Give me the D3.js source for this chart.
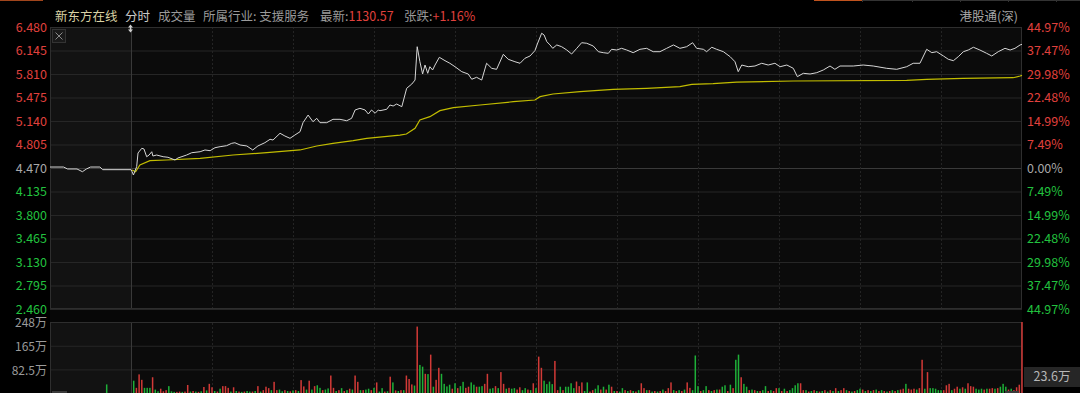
<!DOCTYPE html>
<html>
<head>
<meta charset="utf-8">
<script src="https://cdn.jsdelivr.net/npm/d3@7"></script>
<style>
body{margin:0;background:#000;overflow:hidden}
svg{display:block;font-family:"Noto Sans CJK SC","Noto Sans",sans-serif}
</style>
</head>
<body>
<script>
// price axis ticks (left) and matching % labels (right)
var priceTicks = [6.480, 6.145, 5.810, 5.475, 5.140, 4.805, 4.470, 4.135, 3.800, 3.465, 3.130, 2.795, 2.460];
var pctLabels = ["44.97%","37.47%","29.98%","22.48%","14.99%","7.49%","0.00%","7.49%","14.99%","22.48%","29.98%","37.47%","44.97%"];
var prevClose = 4.470;
var volTicks = [248, 165, 82.5];
var volLabels = ["248万","165万","82.5万"];
// minutes from 9:00 (pre-market 9:00-9:30, trading 9:30-16:00 without lunch)
var timeTicks = [30, 60, 90, 120, 150, 180, 210, 240, 270, 300, 330];

// price line (minute, price)
var priceT = [0,5,6.5,10,12,13.5,15,18.5,19.5,30,
  30.4,30.9,32.1,32.6,34.0,34.8,35.8,36.7,37.7,38.1,39.5,41.9,43.7,46.3,47.4,50.6,52.5,55.6,57.4,59.3,
  61.1,63.0,65.4,67.3,68.5,70.4,72.9,75.1,77.0,79.6,81.5,82.6,85.2,87.0,88.9,90.7,92.6,93.7,95.6,97.4,
  98.8,100,102.5,104.8,107.4,109.9,111.7,113,114.8,116.7,117.9,119.1,120.4,121.6,122.2,124.7,125.9,127.1,128.4,130.3,
  132.1,134,135.2,136.0,137.0,138.0,138.9,139.9,140.7,141.7,142.6,144.2,146.3,148.1,150,152.5,154.9,156.2,158,159.9,
  161.7,163.6,165.4,167.9,169.7,172.2,174.1,175.9,177.8,179.6,180.5,182.1,183,184,185.2,186.2,187.7,189.5,191.4,193.2,
  195.1,196.9,198.8,201.2,203.1,204.9,206.8,208,209.9,211.7,213.6,216,218.5,221,223.4,225.9,228.4,230.9,233.3,235.8,
  238,239.5,242,243.2,245.1,246.9,249.4,251.9,253.7,254.9,256.2,258.6,261.1,263.6,266,268.5,270.4,272.9,275.3,276.8,
  279,281.5,284,286.4,288.9,290.7,292.6,297.5,301.2,304.9,309.9,313.6,317.3,319.7,322.2,324.7,326.6,328.4,330.9,332.7,
  334.6,336.4,338.3,340.1,342,344.4,346.9,348.8,351.2,353.7,355.6,357.4,359.3,360];
var priceV = [4.484,4.484,4.456,4.456,4.417,4.456,4.484,4.484,4.446,4.446,
  4.417,4.370,4.489,4.684,4.751,4.741,4.631,4.655,4.702,4.641,4.655,4.631,4.623,4.584,4.613,4.655,4.688,4.702,4.727,4.717,
  4.759,4.774,4.788,4.822,4.830,4.798,4.784,4.727,4.784,4.831,4.879,4.869,4.965,4.926,4.893,4.940,4.987,5.116,5.225,5.130,
  5.178,5.116,5.116,5.164,5.164,5.144,5.178,5.297,5.321,5.297,5.240,5.297,5.250,5.297,5.287,5.307,5.368,5.354,5.382,5.344,
  5.606,5.667,5.724,6.199,5.985,5.810,5.938,5.820,5.914,5.867,5.938,6.048,6.000,5.963,5.914,5.843,5.810,5.735,5.763,5.724,
  5.963,5.891,5.877,6.091,6.020,5.985,5.963,6.034,6.067,6.143,6.238,6.391,6.366,6.271,6.224,6.176,6.224,6.199,6.152,6.095,
  6.176,6.256,6.248,6.209,6.128,6.114,6.105,6.162,6.152,6.176,6.152,6.114,6.162,6.176,6.128,6.128,6.176,6.224,6.176,6.199,
  6.256,6.176,6.162,6.128,6.191,6.162,6.128,6.057,5.985,5.843,5.938,5.914,5.924,5.963,5.938,5.963,5.914,5.938,5.891,5.772,
  5.820,5.810,5.829,5.867,5.924,5.877,5.924,5.924,5.938,5.924,5.891,5.877,5.914,5.963,5.963,6.162,6.114,6.128,6.067,6.020,
  6.000,6.057,6.128,6.152,6.191,6.152,6.105,6.067,6.128,6.176,6.152,6.176,6.224,6.233];

// average price line (minute, price)
var avgT = [30.4,31.7,33.3,37,43.2,55.6,67.8,80.3,92.6,98.8,104.8,112.3,117.3,129.6,132,135.2,137,140.7,144.4,149.4,
  159.3,171.6,179.6,181.5,186.3,196.3,208.6,221,233.3,237.7,245.6,254.3,275.2,317.3,324.7,338.1,356.7,359.3,360];
var avgV = [4.441,4.417,4.513,4.574,4.584,4.608,4.655,4.688,4.727,4.784,4.822,4.860,4.893,4.940,4.955,5.036,5.154,5.202,5.287,5.330,
  5.368,5.415,5.439,5.487,5.525,5.558,5.592,5.606,5.629,5.662,5.672,5.695,5.710,5.719,5.733,5.748,5.757,5.781,5.790];

// volume (万), one bar per minute from 9:31 to 16:00; r = up, g = down
var preVolT = [21];
var preVol = [30];
var preDir = ["g"];
var vol = [43,18,65,46,18,18,18,55,12,6, 15,6,10,24,6,4,4,5,4,5, 28,5,7,5,4,6,21,9,32,20,
  7,5,15,24,24,18,5,20,7,5, 4,5,7,5,5,7,24,5,10,22, 17,10,39,10,12,6,10,7,6,9,
  10,7,45,23,12,43,12,24,27,18, 10,12,16,61,18,7,10,17,7,10, 15,12,61,39,10,10,12,15,10,18,
  37,5,17,5,6,57,37,9,7,10, 10,61,49,30,26,232,98,92,67,66, 134,22,46,88,67,32,23,29,15,34,
  17,24,39,18,22,37,29,22,22,24, 32,67,15,17,24,17,73,32,15,18, 15,17,12,20,10,17,12,10,34,17,127,
  88,43,31,40,31,112,10,22,10, 22,22,34,17,40,24,37,7,37,5, 10,15,27,12,22,12,29,22,7,7,
  5,17,10,7,10,7,5,10,34,17, 10,10,5,7,5,7,12,7,17,37, 10,7,10,7,12,37,18,10,131,24,
  7,10,24,10,7,10,12,12,22,27, 7,29,17,116,134,55,32,22,10,12, 10,7,7,10,24,7,10,7,17,17,
  7,15,7,10,17,27,34,34,10,10, 5,7,10,7,5,7,10,5,10,7, 17,7,10,17,10,7,5,7,10,15,
  12,7,10,7,10,12,7,10,7,5, 7,10,7,10,12,15,32,15,12,15, 12,17,116,15,73,17,17,15,10,10,
  10,27,32,10,15,22,15,20,15,34, 24,22,15,12,15,12,15,15,17,15, 17,22,32,22,12,15,10,20,29,248];
var volDir = ("grrrgggrgg" + "rrrgggrrgr" + "rgrgrgrgrr" + "grgrrrgrgr" + "grggrgrgrr" + "rgrrggrgrg" +
  "rgrrgrgrgg" + "rggrrgrgrg" + "rgrrgrggrg" + "rggrgrgrgr" + "grrrgrggrg" + "rgrrggggrg" +
  "rggrrggrgg" + "rrggrgrrgr" + "ggrrggrgrgr" + "rggggrrgr" + "ggggrrrggr" + "rggrgrgrgr" +
  "ggrgrgrgrr" + "grgrgrgrrr" + "grgrgrrggg" + "rggrgrgrgg" + "rgrggrggrg" + "rgrggrgrrg" +
  "rgrggggrrg" + "rgrgrgrgrg" + "rgrrgrgrgg" + "rgrgrgrgrg" + "rgrgrrgrrr" + "grrgrggggg" +
  "rrrgrrgrgr" + "rrgggrgrrg" + "rgggrgrrrr").split("");

var W = 1080, H = 393;
var pLeft = 50, pRight = 1022, pTop = 27, pBottom = 309, vTop = 322, vBottom = 393;
var RED = "#e0413d", GREEN = "#22c23f", GRAY = "#a8a8a8";

var svg = d3.select("body").append("svg").attr("width", W).attr("height", H);
svg.append("rect").attr("width", W).attr("height", H).attr("fill", "#000");

var x = d3.scaleLinear().domain([0, 360]).range([pLeft, pRight]);
var y = d3.scaleLinear().domain([2.460, 6.480]).range([pBottom, pTop]);
var yv = d3.scaleLinear().domain([0, 248]).range([vBottom, vTop]);

function tickColor(d) { return d > prevClose + 1e-6 ? RED : (d < prevClose - 1e-6 ? GREEN : GRAY); }

// top tab strip
svg.append("line").attr("x1", 0).attr("x2", 43).attr("y1", 0.5).attr("y2", 0.5).attr("stroke", "#a0451c");
svg.append("line").attr("x1", 814).attr("x2", 862).attr("y1", 0.5).attr("y2", 0.5).attr("stroke", "#c0531e");
svg.append("line").attr("x1", 862).attr("x2", 1080).attr("y1", 0.5).attr("y2", 0.5).attr("stroke", "#333");
[862, 912, 960, 1008, 1056].forEach(function(d) {
  svg.append("line").attr("x1", d + 0.5).attr("x2", d + 0.5).attr("y1", 0).attr("y2", 2).attr("stroke", "#333");
});

// panel backgrounds
svg.append("rect").attr("x", pLeft).attr("y", pBottom).attr("width", pRight - pLeft).attr("height", vTop - pBottom).attr("fill", "#070707");
[[pTop, pBottom], [vTop, vBottom]].forEach(function(r) {
  svg.append("rect").attr("x", pLeft).attr("y", r[0]).attr("width", pRight - pLeft).attr("height", r[1] - r[0]).attr("fill", "#0b0b0b");
  svg.append("rect").attr("x", pLeft).attr("y", r[0]).attr("width", x(30) - pLeft).attr("height", r[1] - r[0]).attr("fill", "#121212");
});

// horizontal grid, price
var gy = svg.append("g").attr("transform", "translate(" + pLeft + ",0)")
  .call(d3.axisLeft(y).tickValues(priceTicks).tickSize(-(pRight - pLeft)).tickFormat(""));
gy.select(".domain").remove();
gy.selectAll("line").attr("stroke", function(d) { return d === prevClose ? "#3a3a3a" : "#262626"; });

// horizontal grid, volume
var gv = svg.append("g").attr("transform", "translate(" + pLeft + ",0)")
  .call(d3.axisLeft(yv).tickValues(volTicks).tickSize(-(pRight - pLeft)).tickFormat(""));
gv.select(".domain").remove();
gv.selectAll("line").attr("stroke", "#262626");

// vertical grid
[[pTop, pBottom], [vTop, vBottom]].forEach(function(r) {
  var gx = svg.append("g").attr("transform", "translate(0," + r[1] + ")")
    .call(d3.axisBottom(x).tickValues(timeTicks).tickSize(-(r[1] - r[0])).tickFormat(""));
  gx.select(".domain").remove();
  gx.selectAll("line")
    .attr("stroke", function(d) { return d === 30 ? "#393939" : "#242424"; })
    .attr("stroke-dasharray", function(d) { return d === 30 ? null : "2,2"; });
});

// frames
svg.append("rect").attr("x", pLeft + 0.5).attr("y", pTop + 0.5).attr("width", pRight - pLeft - 1).attr("height", pBottom - pTop - 1)
  .attr("fill", "none").attr("stroke", "#2e2e2e");
svg.append("rect").attr("x", pLeft + 0.5).attr("y", vTop + 0.5).attr("width", pRight - pLeft - 1).attr("height", vBottom - vTop)
  .attr("fill", "none").attr("stroke", "#2e2e2e");

// left price labels
var ay = svg.append("g").attr("transform", "translate(47,0)")
  .call(d3.axisLeft(y).tickValues(priceTicks).tickSize(0).tickPadding(0).tickFormat(d3.format(".3f")));
ay.select(".domain").remove();
ay.selectAll("text").attr("fill", tickColor).style("font-size", "12.5px")
  .style("font-family", "'Noto Sans CJK SC','Noto Sans',sans-serif");

// right percentage labels
var ap = svg.append("g").attr("transform", "translate(1027,0)")
  .call(d3.axisRight(y).tickValues(priceTicks).tickSize(0).tickPadding(0).tickFormat(function(d, i) { return pctLabels[i]; }));
ap.select(".domain").remove();
ap.selectAll("text").attr("fill", tickColor).style("font-size", "12.5px")
  .style("font-family", "'Noto Sans CJK SC','Noto Sans',sans-serif");

// volume labels
var av = svg.append("g").attr("transform", "translate(47,1)")
  .call(d3.axisLeft(yv).tickValues(volTicks).tickSize(0).tickPadding(0).tickFormat(function(d, i) { return volLabels[i]; }));
av.select(".domain").remove();
av.selectAll("text").attr("fill", "#9a9a9a").style("font-size", "12px")
  .style("font-family", "'Noto Sans CJK SC','Noto Sans',sans-serif");

// volume bars
var bars = vol.map(function(v, i) { return { t: 31 + i, v: v, d: volDir[i] }; })
  .concat(preVol.map(function(v, i) { return { t: preVolT[i], v: v, d: preDir[i] }; }));
svg.append("g").selectAll("rect").data(bars).enter().append("rect")
  .attr("x", function(d) { return x(d.t) - 0.75; })
  .attr("width", 1.5)
  .attr("y", function(d) { return yv(d.v); })
  .attr("height", function(d) { return yv(0) - yv(d.v); })
  .attr("fill", function(d) { return d.d === "r" ? "#d23a37" : "#1eb038"; });

// lines
var line = d3.line().x(function(d) { return x(d[0]); }).y(function(d) { return y(d[1]); });
svg.append("path").datum(avgT.map(function(t, i) { return [t, avgV[i]]; }))
  .attr("d", line).attr("fill", "none").attr("stroke", "#c2bd00").attr("stroke-width", 1.2);
svg.append("path").datum(priceT.map(function(t, i) { return [t, priceV[i]]; }))
  .attr("d", line).attr("fill", "none").attr("stroke", "#d6d6d6").attr("stroke-width", 1);

// close box at top-left
svg.append("rect").attr("x", 52.5).attr("y", 29.5).attr("width", 13).attr("height", 13)
  .attr("fill", "#1a1a1a").attr("stroke", "#333");
svg.append("path").attr("d", "M55.5,32.5L62.5,39.5M62.5,32.5L55.5,39.5").attr("stroke", "#8a8a8a").attr("stroke-width", 1);

// small drag marker at start of session
svg.append("path").attr("d", "M128,27.5L130.5,24.5L133,27.5Z M128,29.5L130.5,32.5L133,29.5Z").attr("fill", "#cfcfcf");
svg.append("rect").attr("x", 129.8).attr("y", 26.5).attr("width", 1.4).attr("height", 4).attr("fill", "#cfcfcf");

// header
var hdr = svg.append("text").attr("x", 55).attr("y", 20.5).style("font-size", "12.5px");
hdr.append("tspan").attr("fill", "#d9d2a4").text("新东方在线");
hdr.append("tspan").attr("x", 125).attr("fill", "#c8c8c8").text("分时");
hdr.append("tspan").attr("x", 158).attr("fill", "#9a9a9a").text("成交量");
hdr.append("tspan").attr("x", 203).attr("fill", "#9a9a9a").text("所属行业: 支援服务");
hdr.append("tspan").attr("x", 320).attr("fill", "#9a9a9a").text("最新:");
hdr.append("tspan").attr("fill", RED).text("1130.57");
hdr.append("tspan").attr("x", 404).attr("fill", "#9a9a9a").text("张跌:");
hdr.append("tspan").attr("fill", RED).text("+1.16%");
svg.append("text").attr("x", 1018).attr("y", 20.5).attr("text-anchor", "end")
  .style("font-size", "12.5px").attr("fill", "#a5a5a5").text("港股通(深)");

// current volume tag
svg.append("rect").attr("x", 1024).attr("y", 367).attr("width", 56).attr("height", 20).attr("fill", "#262626");
svg.append("text").attr("x", 1052).attr("y", 377).attr("text-anchor", "middle").attr("dy", "0.35em")
  .style("font-size", "12.5px").attr("fill", "#b8b8b8").text("23.6万");

// bottom scroll tabs
svg.append("rect").attr("x", 52).attr("y", 391).attr("width", 15).attr("height", 2).attr("fill", "#3a3a3a");
svg.append("rect").attr("x", 1005).attr("y", 391).attr("width", 14).attr("height", 2).attr("fill", "#3a3a3a");
</script>
</body>
</html>
